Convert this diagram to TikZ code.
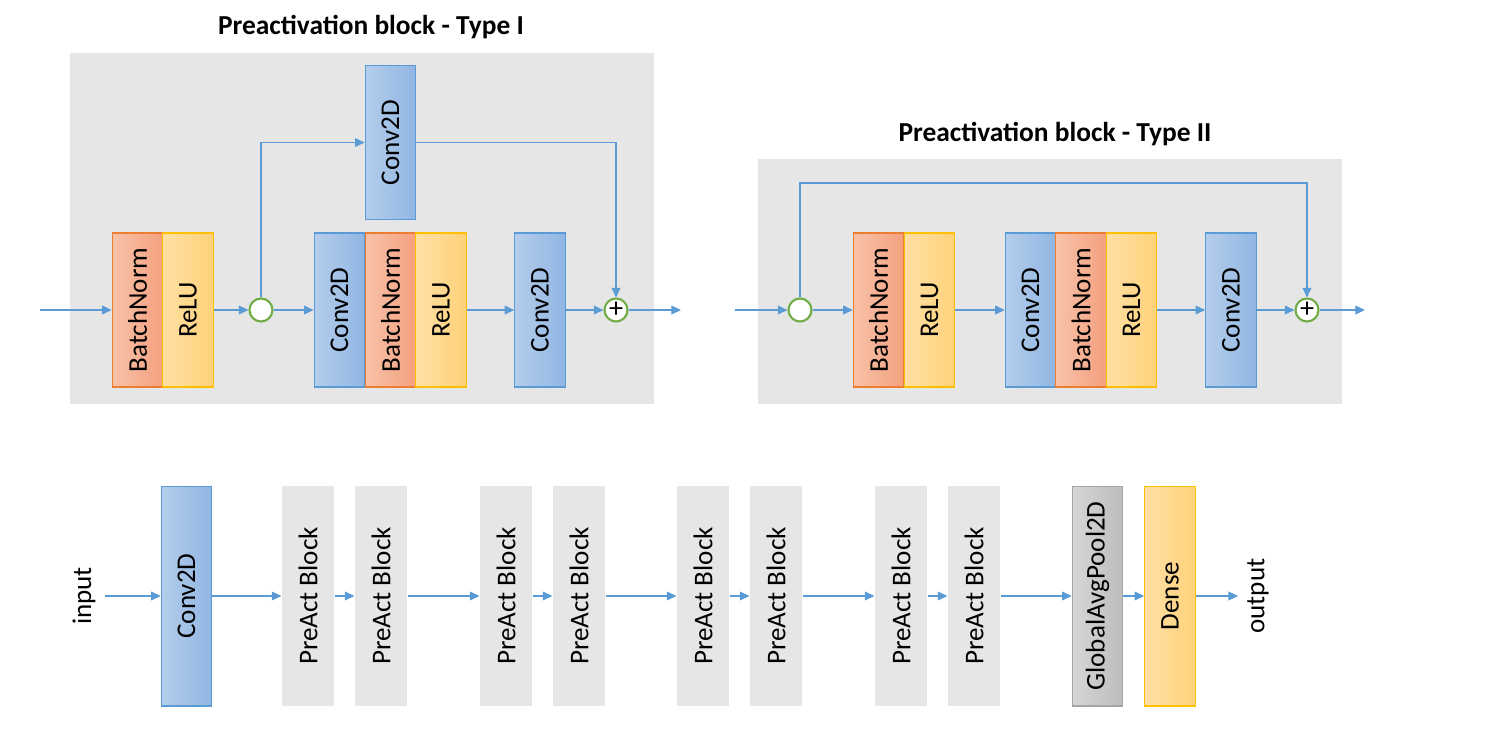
\documentclass[tikz,border=0pt]{standalone}
\usepackage{fontspec}
\setmainfont{Carlito}
\usetikzlibrary{arrows.meta}
\definecolor{convL}{HTML}{B4CDEB}
\definecolor{convR}{HTML}{91B6E3}
\definecolor{convB}{HTML}{5B9BD5}
\definecolor{bnL}{HTML}{F8C2A8}
\definecolor{bnR}{HTML}{F4A07F}
\definecolor{bnB}{HTML}{ED7D31}
\definecolor{reluL}{HTML}{FFDFA3}
\definecolor{reluR}{HTML}{FFD27A}
\definecolor{reluB}{HTML}{FFC000}
\definecolor{gapL}{HTML}{D6D6D6}
\definecolor{gapR}{HTML}{BDBDBD}
\definecolor{gapB}{HTML}{A5A5A5}
\definecolor{panelC}{HTML}{E6E6E6}
\definecolor{flowC}{HTML}{5B9BD5}
\definecolor{jointC}{HTML}{70AD47}
\tikzset{
  box/.style={rectangle, minimum width=1.01cm, minimum height=3.08cm, inner sep=0pt, line width=0.6pt, font=\fontsize{15.4}{18}\selectfont},
  tallbox/.style={box, minimum height=4.4cm},
  conv/.style={box, draw=convB, left color=convL, right color=convR},
  bnorm/.style={box, draw=bnB, left color=bnL, right color=bnR},
  relu/.style={box, draw=reluB, left color=reluL, right color=reluR},
  preact/.style={tallbox, fill=panelC, minimum width=1.04cm},
  gpool/.style={tallbox, draw=gapB, left color=gapL, right color=gapR},
  dense/.style={tallbox, draw=reluB, left color=reluL, right color=reluR},
  joint/.style={circle, draw=jointC, fill=white, line width=1.2pt, minimum size=0.46cm, inner sep=0pt},
  addnode/.style={joint, font=\fontsize{16}{16}\selectfont},
  flow/.style={draw=flowC, line width=0.6pt, -{Triangle[length=5.5pt,width=5pt]}},
  panel/.style={fill=panelC},
  title/.style={font=\fontsize{15.6}{18}\selectfont\bfseries},
  io/.style={font=\fontsize{15.4}{18}\selectfont, inner sep=5pt}
}
\begin{document}
\begin{tikzpicture}[x=0.02cm, y=-0.02cm]
\useasboundingbox (0,0) rectangle (1490,741);

% Type I
\fill[panel] (70,53) rectangle (654,404);
\node[title] (titleA) at (371,27) {Preactivation block - Type I};
\coordinate (inA) at (40,310);
\node[bnorm] (bn1) at (137.5,310) {\rotatebox{90}{BatchNorm}};
\node[relu] (relu1) at (188,310) {\rotatebox{90}{ReLU}};
\node[joint] (j1) at (261,310) {};
\node[conv] (cvT) at (390.5,142.5) {\rotatebox{90}{Conv2D}};
\node[conv] (cv1) at (339.5,310) {\rotatebox{90}{Conv2D}};
\node[bnorm] (bn2) at (390.5,310) {\rotatebox{90}{BatchNorm}};
\node[relu] (relu2) at (441,310) {\rotatebox{90}{ReLU}};
\node[conv] (cv2) at (540,310) {\rotatebox{90}{Conv2D}};
\node[addnode] (add1) at (616,310) {+};
\coordinate (outA) at (681,310);
\draw[flow] (inA) -- (bn1);
\draw[flow] (relu1) -- (j1);
\draw[flow] (j1) -- (cv1);
\draw[flow] (j1) |- (cvT);
\draw[flow] (cvT) -| (add1);
\draw[flow] (relu2) -- (cv2);
\draw[flow] (cv2) -- (add1);
\draw[flow] (add1) -- (outA);

% Type II
\fill[panel] (758,159) rectangle (1342,404);
\node[title] (titleB) at (1055,134) {Preactivation block - Type II};
\coordinate (inB) at (735,310);
\node[joint] (j2) at (800,310) {};
\node[bnorm] (bn3) at (878.5,310) {\rotatebox{90}{BatchNorm}};
\node[relu] (relu3) at (929.5,310) {\rotatebox{90}{ReLU}};
\node[conv] (cv3) at (1030.5,310) {\rotatebox{90}{Conv2D}};
\node[bnorm] (bn4) at (1081,310) {\rotatebox{90}{BatchNorm}};
\node[relu] (relu4) at (1131.5,310) {\rotatebox{90}{ReLU}};
\node[conv] (cv4) at (1231,310) {\rotatebox{90}{Conv2D}};
\node[addnode] (add2) at (1307,310) {+};
\coordinate (skipB) at (1307,183);
\coordinate (outB) at (1365,310);
\draw[flow] (inB) -- (j2);
\draw[flow] (j2) -- (bn3);
\draw[flow] (j2) |- (skipB) -- (add2);
\draw[flow] (relu3) -- (cv3);
\draw[flow] (relu4) -- (cv4);
\draw[flow] (cv4) -- (add2);
\draw[flow] (add2) -- (outB);

% network
\node[io] (inp) at (84,596) {\rotatebox{90}{input}};
\node[conv, tallbox] (cv0) at (186.5,596) {\rotatebox{90}{Conv2D}};
\node[preact] (pa1) at (308,596) {\rotatebox{90}{PreAct Block}};
\node[preact] (pa2) at (381,596) {\rotatebox{90}{PreAct Block}};
\node[preact] (pa3) at (506,596) {\rotatebox{90}{PreAct Block}};
\node[preact] (pa4) at (579,596) {\rotatebox{90}{PreAct Block}};
\node[preact] (pa5) at (703,596) {\rotatebox{90}{PreAct Block}};
\node[preact] (pa6) at (776,596) {\rotatebox{90}{PreAct Block}};
\node[preact] (pa7) at (901,596) {\rotatebox{90}{PreAct Block}};
\node[preact] (pa8) at (974,596) {\rotatebox{90}{PreAct Block}};
\node[gpool] (gap) at (1097.5,596) {\rotatebox{90}{GlobalAvgPool2D}};
\node[dense] (fc) at (1170,596) {\rotatebox{90}{Dense}};
\node[io] (outp) at (1258,596) {\rotatebox{90}{output}};
\draw[flow] (inp) -- (cv0);
\draw[flow] (cv0) -- (pa1);
\draw[flow] (pa1) -- (pa2);
\draw[flow] (pa2) -- (pa3);
\draw[flow] (pa3) -- (pa4);
\draw[flow] (pa4) -- (pa5);
\draw[flow] (pa5) -- (pa6);
\draw[flow] (pa6) -- (pa7);
\draw[flow] (pa7) -- (pa8);
\draw[flow] (pa8) -- (gap);
\draw[flow] (gap) -- (fc);
\draw[flow] (fc) -- (outp);

\end{tikzpicture}
\end{document}
